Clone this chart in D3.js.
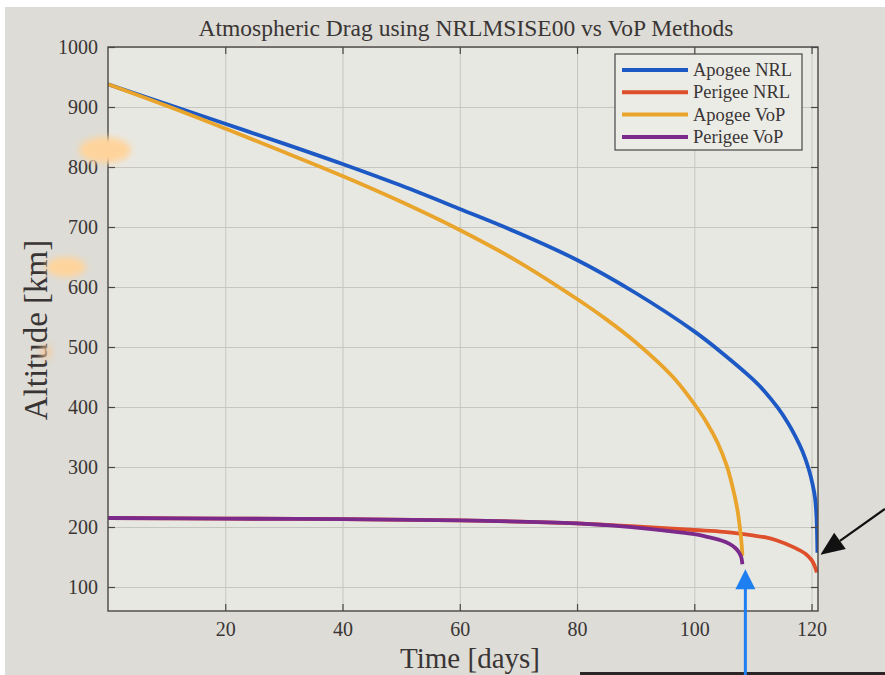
<!DOCTYPE html>
<html>
<head>
<meta charset="utf-8">
<script src="https://cdn.jsdelivr.net/npm/d3@7/dist/d3.min.js"></script>
<style>
  html, body { margin: 0; padding: 0; background: #fff; }
  svg { display: block; }
</style>
</head>
<body>
<svg id="chart"></svg>
<script>
// series (time in days, altitude in km)
const apogeeNrlDays = [0, 10, 20, 30, 40, 50, 60, 70, 80, 90, 100, 105, 110, 112, 114.3, 116, 117.2, 118.5, 119.5, 120.2, 120.6, 120.85, 121.0];
const apogeeNrlAlt  = [938, 905, 872, 839, 805, 769, 730, 690, 645, 590, 526, 488, 446, 426, 398, 373, 352, 325, 297, 270, 248, 215, 157];

const perigeeNrlDays = [0, 20, 40, 60, 80, 90, 100, 105, 110, 112, 114, 117, 119, 120, 120.5, 120.9];
const perigeeNrlAlt  = [215, 214, 213, 211, 206, 201, 195, 192, 186, 183, 178, 166, 155, 145, 136, 124];

const apogeeVopDays = [0, 10, 20, 30, 40, 50, 60, 70, 80, 85, 90, 94, 97, 100, 102, 104, 105.5, 106.5, 107.3, 107.8, 108.1, 108.2];
const apogeeVopAlt  = [938, 902, 864, 825, 785, 742, 695, 642, 580, 546, 508, 473, 443, 405, 376, 340, 303, 268, 232, 197, 168, 152];

const perigeeVopDays = [0, 20, 40, 60, 80, 85, 91, 95, 100, 102, 104.5, 106, 107, 107.6, 108, 108.2];
const perigeeVopAlt  = [215, 214, 213, 211, 206, 203, 198, 194, 188, 184, 178, 172, 165, 158, 150, 138];

const seriesNames = ['Apogee NRL', 'Perigee NRL', 'Apogee VoP', 'Perigee VoP'];
const seriesColors = ['#1d59c4', '#de4f2c', '#e9a42b', '#7b2a8c'];

const xTicks = [20, 40, 60, 80, 100, 120];
const yTicks = [100, 200, 300, 400, 500, 600, 700, 800, 900, 1000];

const W = 885, H = 675;
const plot = { left: 108, right: 818, top: 47, bottom: 611 };
const serif = "'Liberation Serif', 'DejaVu Serif', serif";

const series = [
  { name: seriesNames[0], color: seriesColors[0], values: d3.zip(apogeeNrlDays, apogeeNrlAlt) },
  { name: seriesNames[1], color: seriesColors[1], values: d3.zip(perigeeNrlDays, perigeeNrlAlt) },
  { name: seriesNames[2], color: seriesColors[2], values: d3.zip(apogeeVopDays, apogeeVopAlt) },
  { name: seriesNames[3], color: seriesColors[3], values: d3.zip(perigeeVopDays, perigeeVopAlt) },
];

const svg = d3.select('#chart').attr('width', W).attr('height', H);

// photo background
svg.append('rect').attr('width', W).attr('height', H).attr('fill', '#dddcd6');
svg.append('rect').attr('width', W).attr('height', 7).attr('fill', '#ffffff');
svg.append('rect').attr('width', 5).attr('height', H).attr('fill', '#ffffff');
svg.append('rect').attr('x', 580).attr('y', 672).attr('width', W - 580).attr('height', 3).attr('fill', '#2b2525');

const xScale = d3.scaleLinear().domain([0, 121.1]).range([plot.left, plot.right]);
const yScale = d3.scaleLinear().domain([60, 1000]).range([plot.bottom, plot.top]);
const pw = plot.right - plot.left;
const ph = plot.bottom - plot.top;

svg.append('rect')
  .attr('x', plot.left).attr('y', plot.top)
  .attr('width', pw).attr('height', ph)
  .attr('fill', '#e8e8e2');

// grid
svg.append('g')
  .attr('class', 'grid')
  .attr('transform', `translate(0, ${plot.bottom})`)
  .call(d3.axisBottom(xScale).tickValues(xTicks).tickSize(-ph).tickFormat(''))
  .call((g) => g.select('.domain').remove())
  .selectAll('line').attr('stroke', '#c6c6c0');

svg.append('g')
  .attr('class', 'grid')
  .attr('transform', `translate(${plot.left}, 0)`)
  .call(d3.axisLeft(yScale).tickValues(yTicks).tickSize(-pw).tickFormat(''))
  .call((g) => g.select('.domain').remove())
  .selectAll('line').attr('stroke', '#c6c6c0');

// lines
svg.append('clipPath').attr('id', 'clip')
  .append('rect').attr('x', plot.left).attr('y', plot.top).attr('width', pw).attr('height', ph);

const line = d3.line()
  .x((d) => xScale(d[0]))
  .y((d) => yScale(d[1]))
  .curve(d3.curveCatmullRom.alpha(0.5));

svg.append('g')
  .attr('class', 'lines')
  .attr('clip-path', 'url(#clip)')
  .selectAll('path')
  .data(series)
  .enter()
  .append('path')
  .attr('d', (d) => line(d.values))
  .attr('fill', 'none')
  .attr('stroke', (d) => d.color)
  .attr('stroke-width', 3.8)
  .attr('stroke-linejoin', 'round');

// axes, ticks inward on all four sides
const axisColor = '#4a4646';
const textColor = '#3a3535';

const xAxis = svg.append('g')
  .attr('transform', `translate(0, ${plot.bottom})`)
  .call(d3.axisBottom(xScale).tickValues(xTicks).tickSize(-7).tickPadding(11).tickFormat(d3.format('d')));
const yAxis = svg.append('g')
  .attr('transform', `translate(${plot.left}, 0)`)
  .call(d3.axisLeft(yScale).tickValues(yTicks).tickSize(-7).tickPadding(10).tickFormat(d3.format('d')));
svg.append('g')
  .attr('transform', `translate(0, ${plot.top})`)
  .call(d3.axisTop(xScale).tickValues(xTicks).tickSize(-7).tickFormat(''));
svg.append('g')
  .attr('transform', `translate(${plot.right}, 0)`)
  .call(d3.axisRight(yScale).tickValues(yTicks).tickSize(-7).tickFormat(''));

svg.selectAll('.domain').remove();
svg.selectAll('.tick line').filter(function () { return !this.closest('.grid'); })
  .attr('stroke', axisColor).attr('stroke-width', 1.2);
[xAxis, yAxis].forEach((a) => a.selectAll('text')
  .attr('font-family', serif).attr('font-size', '20px').attr('fill', textColor));

svg.append('rect')
  .attr('x', plot.left).attr('y', plot.top)
  .attr('width', pw).attr('height', ph)
  .attr('fill', 'none').attr('stroke', axisColor).attr('stroke-width', 1.4);

// labels
svg.append('text')
  .attr('x', (plot.left + plot.right) / 2 + 3).attr('y', 36)
  .attr('text-anchor', 'middle')
  .attr('font-family', serif).attr('font-size', '23.5px').attr('fill', textColor)
  .text('Atmospheric Drag using NRLMSISE00 vs VoP Methods');

svg.append('text')
  .attr('x', 470).attr('y', 668)
  .attr('text-anchor', 'middle')
  .attr('font-family', serif).attr('font-size', '29px').attr('fill', textColor)
  .text('Time [days]');

svg.append('text')
  .attr('transform', 'translate(47, 330) rotate(-90)')
  .attr('text-anchor', 'middle')
  .attr('font-family', serif).attr('font-size', '33px').attr('fill', textColor)
  .text('Altitude [km]');

// legend
const legend = svg.append('g').attr('transform', 'translate(615, 54)');
legend.append('rect')
  .attr('width', 187).attr('height', 96)
  .attr('fill', '#ecece7').attr('stroke', axisColor).attr('stroke-width', 1.2);
const items = legend.selectAll('.item')
  .data(series)
  .enter()
  .append('g')
  .attr('class', 'item')
  .attr('transform', (d, i) => `translate(0, ${16 + i * 22.3})`);
items.append('line')
  .attr('x1', 7).attr('x2', 73)
  .attr('stroke', (d) => d.color).attr('stroke-width', 4);
items.append('text')
  .attr('x', 78).attr('y', 6)
  .attr('font-family', serif).attr('font-size', '18.5px').attr('fill', textColor)
  .text((d) => d.name);

// light reflections in the photo
const blur = svg.append('filter').attr('id', 'soft').attr('x', '-50%').attr('y', '-50%').attr('width', '200%').attr('height', '200%');
blur.append('feGaussianBlur').attr('stdDeviation', 3);
const glow = svg.append('g').attr('filter', 'url(#soft)');
glow.append('ellipse').attr('cx', 105).attr('cy', 150).attr('rx', 26).attr('ry', 13).attr('fill', '#ffd49c');
glow.append('ellipse').attr('cx', 66).attr('cy', 267).attr('rx', 20).attr('ry', 10).attr('fill', '#ffd49c');
glow.append('ellipse').attr('cx', 46).attr('cy', 352).attr('rx', 6).attr('ry', 8).attr('fill', '#f5c89a').attr('opacity', 0.7);

// annotation arrows pointing at the end of the decay curves
const vopEnd = series[3].values[series[3].values.length - 1];
const bx = xScale(vopEnd[0]) + 3;
const by = yScale(vopEnd[1]) + 5;
svg.append('line')
  .attr('x1', bx).attr('x2', bx).attr('y1', H).attr('y2', by + 16)
  .attr('stroke', '#1e7ff0').attr('stroke-width', 3);
svg.append('path')
  .attr('d', `M${bx},${by} L${bx - 10},${by + 20} L${bx + 10},${by + 20} Z`)
  .attr('fill', '#1e7ff0');

const nrlEnd = series[0].values[series[0].values.length - 1];
const kx = xScale(nrlEnd[0]) + 3;
const ky = yScale(nrlEnd[1]) + 2;
const sx = W, sy = ky - 46;
const ang = Math.atan2(sy - ky, sx - kx);
const hl = 24, hw = 10;
const hx = kx + hl * Math.cos(ang), hy = ky + hl * Math.sin(ang);
svg.append('line')
  .attr('x1', sx).attr('y1', sy).attr('x2', hx).attr('y2', hy)
  .attr('stroke', '#111').attr('stroke-width', 2.2);
svg.append('path')
  .attr('d', `M${kx},${ky} L${hx + hw * Math.sin(ang)},${hy - hw * Math.cos(ang)} L${hx - hw * Math.sin(ang)},${hy + hw * Math.cos(ang)} Z`)
  .attr('fill', '#111');
</script>
</body>
</html>
